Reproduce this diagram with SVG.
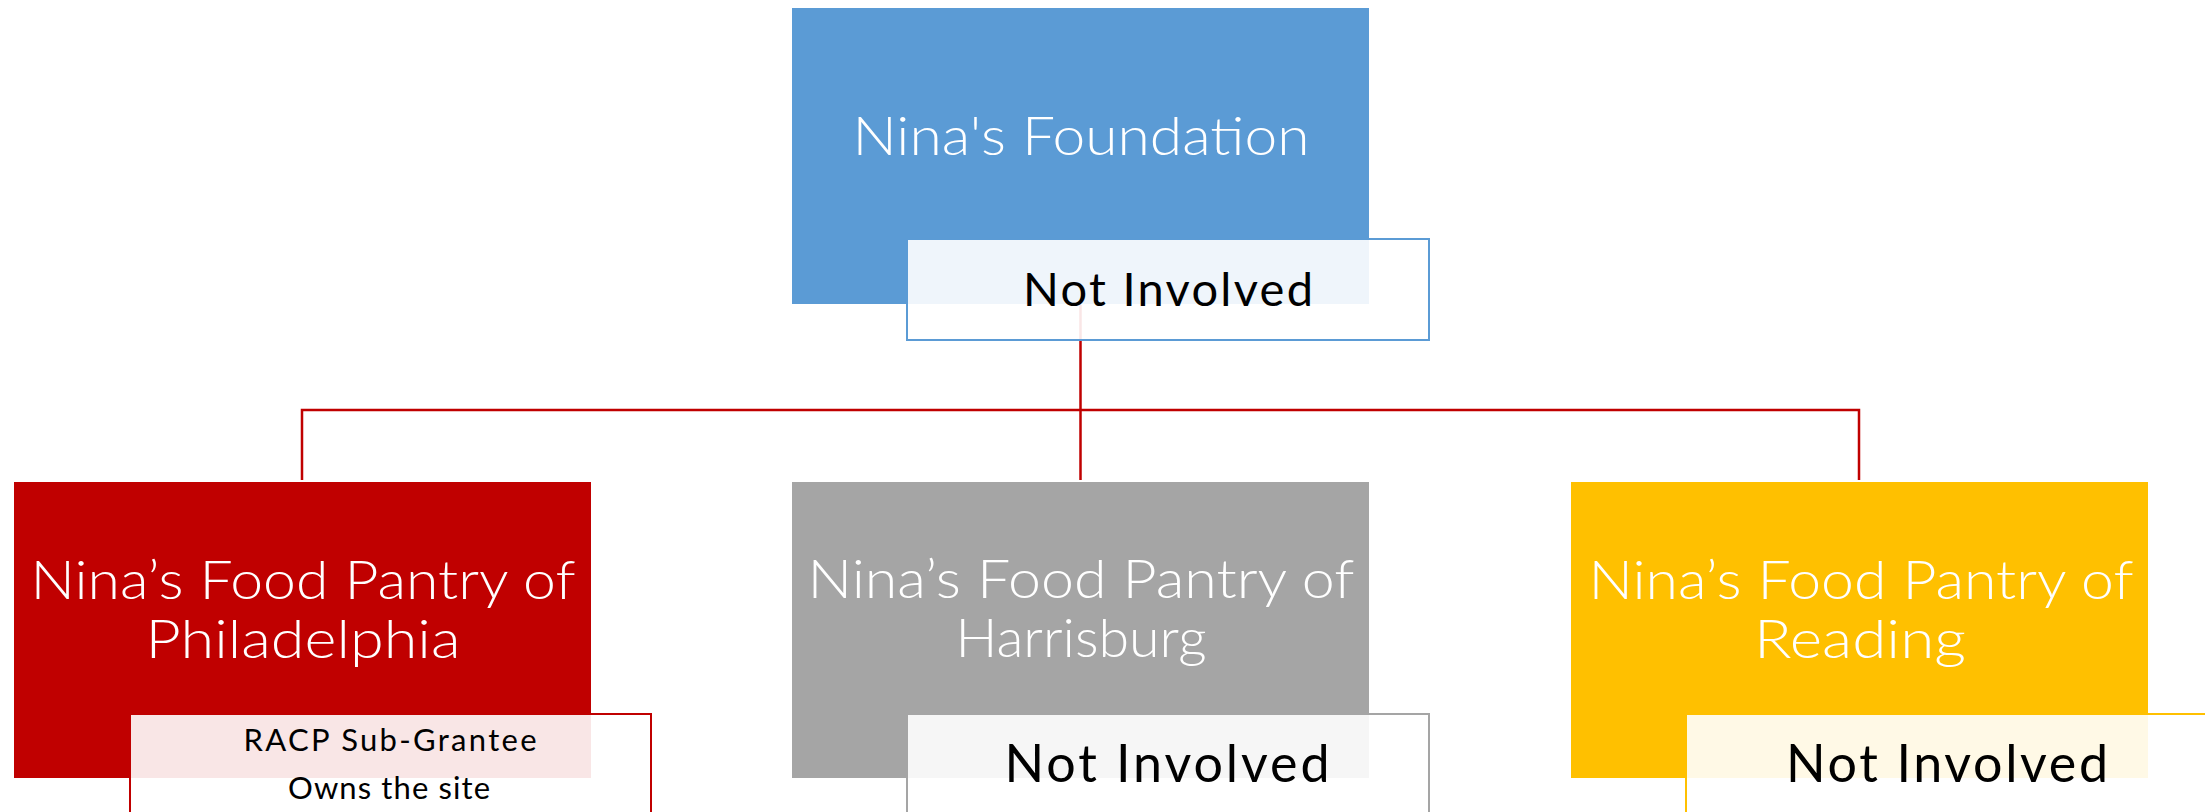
<svg xmlns="http://www.w3.org/2000/svg" width="2205" height="812" viewBox="0 0 2205 812">
<style>
.t{font-family:"Century Gothic","Lato","DejaVu Sans",sans-serif;text-anchor:middle}
.w{fill:#FFFFFF;font-size:53px;font-weight:300}
.k{fill:#000000}
.big{font-size:52px}
.sm{font-size:31px}
.top{font-size:47px}
.ov{fill:#FFFFFF;fill-opacity:0.9;stroke-width:2}
.conn{fill:none;stroke:#C00000;stroke-width:2.5}
</style>
<g id="connectors">
<path class="conn" d="M1080.5 305 V410 M302 480 V410 H1859 V480 M1080.5 410 V480"/>
</g>
<g id="node-foundation">
<rect x="792" y="8" width="577" height="296" fill="#5B9BD5"/>
<text class="t w" x="1081" y="155" textLength="457" lengthAdjust="spacingAndGlyphs">Nina's Foundation</text>
<rect class="ov" x="907" y="239" width="522" height="101" stroke="#5B9BD5"/>
<text class="t k top" x="1168" y="306" textLength="290">Not Involved</text>
</g>
<g id="node-philadelphia">
<rect x="14" y="482" width="577" height="296" fill="#C00000"/>
<text class="t w" x="303" y="599" textLength="545" lengthAdjust="spacingAndGlyphs">Nina’s Food Pantry of</text>
<text class="t w" x="303" y="658" textLength="315" lengthAdjust="spacingAndGlyphs">Philadelphia</text>
<rect class="ov" x="130" y="714" width="521" height="110" stroke="#C00000"/>
<text class="t k sm" x="390" y="751" textLength="293">RACP Sub-Grantee</text>
<text class="t k sm" x="389" y="799" textLength="202">Owns the site</text>
</g>
<g id="node-harrisburg">
<rect x="792" y="482" width="577" height="296" fill="#A5A5A5"/>
<text class="t w" x="1081" y="598" textLength="547" lengthAdjust="spacingAndGlyphs">Nina’s Food Pantry of</text>
<text class="t w" x="1081" y="657" textLength="251" lengthAdjust="spacingAndGlyphs">Harrisburg</text>
<rect class="ov" x="907" y="714" width="522" height="110" stroke="#A5A5A5"/>
<text class="t k big" x="1167" y="782" textLength="325">Not Involved</text>
</g>
<g id="node-reading">
<rect x="1571" y="482" width="577" height="296" fill="#FFC000"/>
<text class="t w" x="1861" y="599" textLength="545" lengthAdjust="spacingAndGlyphs">Nina’s Food Pantry of</text>
<text class="t w" x="1860" y="658" textLength="212" lengthAdjust="spacingAndGlyphs">Reading</text>
<rect class="ov" x="1686" y="714" width="522" height="110" stroke="#FFC000"/>
<text class="t k big" x="1947" y="782" textLength="322">Not Involved</text>
</g>
</svg>
